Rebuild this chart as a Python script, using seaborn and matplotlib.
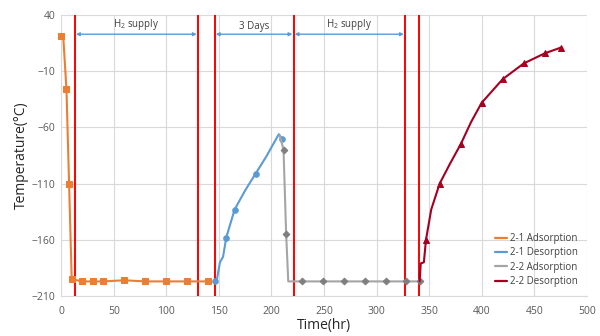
import matplotlib
matplotlib.use("Agg")
import matplotlib.pyplot as plt
from matplotlib.lines import Line2D
import seaborn as sns

# 2-1 Adsorption
ads1_t = [0, 2, 5, 7.5, 10, 20, 30, 40, 60, 80, 100, 120, 140]
ads1_T = [21, 20, -26, -110, -195, -197, -197, -197, -196, -197, -197, -197, -197]
ads1_mk = [0, 2, 3, 4, 5, 6, 7, 8, 9, 10, 11, 12]

# 2-1 Desorption
des1_t = [146, 148, 151, 154, 157, 165, 175, 185, 195, 207, 210]
des1_T = [-197, -196, -180, -175, -158, -133, -116, -101, -86, -66, -70]
des1_mk = [0, 4, 5, 7, 10]

# 2-2 Adsorption
ads2_t = [208, 211.5, 214, 216, 229, 249, 269, 289, 309, 328, 341]
ads2_T = [-67, -80, -155, -197, -197, -197, -197, -197, -197, -197, -197]
ads2_mk = [1, 2, 4, 5, 6, 7, 8, 9, 10]

# 2-2 Desorption
des2_t = [341, 342, 345, 347, 352, 360, 370, 380, 390, 400, 420, 440, 460, 475]
des2_T = [-197, -181, -180, -160, -133, -110, -92, -75, -55, -38, -17, -3, 6, 11]
des2_mk = [3, 5, 7, 9, 10, 11, 12, 13]

series_names = ["2-1 Adsorption", "2-1 Desorption", "2-2 Adsorption", "2-2 Desorption"]
colors = ["#ED7D31", "#5B9BD5", "#A5A5A5", "#A50021"]
markers = ["s", "o", "D", "^"]

boundaries = [13, 130, 146, 221, 327, 340]
spans = [(13, 130, "H$_2$ supply"), (146, 221, "3 Days"), (221, 327, "H$_2$ supply")]

sns.set_theme(style="whitegrid")
plt.rcParams["font.family"] = ["Open Sans", "DejaVu Sans"]
plt.rcParams["mathtext.fontset"] = "custom"
plt.rcParams["mathtext.rm"] = "Open Sans"
plt.rcParams["mathtext.it"] = "Open Sans"

fig = plt.figure(figsize=(6, 3.36), dpi=100)
ax = fig.add_axes([0.102, 0.119, 0.876, 0.836])

data = [(ads1_t, ads1_T, ads1_mk), (des1_t, des1_T, des1_mk),
        (ads2_t, ads2_T, ads2_mk), (des2_t, des2_T, des2_mk)]
msizes = [4.0, 4.0, 3.4, 4.8]
for (t, T, mk), c, m, ms in zip(data, colors, markers, msizes):
    mfc = "#7F7F7F" if c == "#A5A5A5" else c
    sns.lineplot(x=t, y=T, ax=ax, sort=False, estimator=None, color=c, lw=1.5,
                 marker=m, markersize=ms, markevery=mk, markerfacecolor=mfc,
                 markeredgecolor=mfc, legend=False, clip_on=False, zorder=4)

for b in boundaries:
    ax.axvline(b, color="#FF0000", lw=1.4, zorder=3)

for x0, x1, label in spans:
    ax.annotate("", xy=(x1 - 1, 23), xytext=(x0 + 1, 23),
                arrowprops=dict(arrowstyle="<|-|>", color="#5B9BD5", lw=1,
                                mutation_scale=5, shrinkA=0, shrinkB=0))
    ax.text((x0 + x1) / 2, 25, label, ha="center", va="bottom", fontsize=7, color="#404040")

ax.set_xlim(0, 500)
ax.set_ylim(-210, 40)
ax.set_xticks(range(0, 501, 50))
ax.set_yticks([40, -10, -60, -110, -160, -210])
ax.tick_params(labelsize=7.5, colors="#595959", length=0)
ax.tick_params(axis="x", pad=7)
ax.tick_params(axis="y", pad=4)
ax.grid(True, color="#D9D9D9", lw=0.8)
for s in ["top", "right"]:
    ax.spines[s].set_visible(False)
for s in ["left", "bottom"]:
    ax.spines[s].set_color("#D9D9D9")
    ax.spines[s].set_linewidth(0.8)

ax.set_xlabel("Time(hr)", fontsize=10, color="#262626", labelpad=1)
ax.set_ylabel("Temperature(\u00b0C)", fontsize=10, color="#262626", labelpad=2)

handles = [Line2D([0], [0], color=c, lw=1.6) for c in colors]
ax.legend(handles, series_names, loc="lower right", frameon=False, fontsize=7,
          handlelength=1.3, handletextpad=0.3, labelspacing=0.35,
          bbox_to_anchor=(1.0, 0.0), labelcolor="#404040")

fig.savefig("out.png", dpi=100)
